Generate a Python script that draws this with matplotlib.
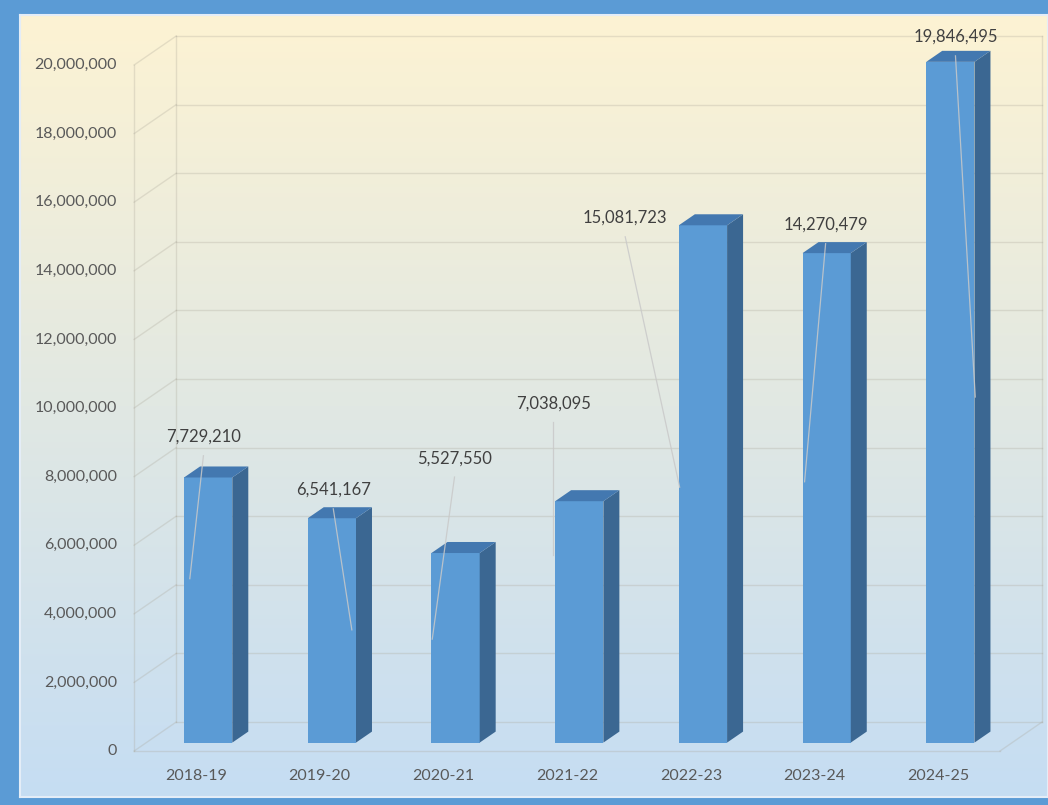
import numpy as np
import matplotlib.pyplot as plt
from matplotlib.patches import Polygon

years = ['2018-19', '2019-20', '2020-21', '2021-22', '2022-23', '2023-24', '2024-25']
values = [7729210, 6541167, 5527550, 7038095, 15081723, 14270479, 19846495]
ticks = np.arange(0, 20000001, 2000000)

# where each value label sits: x shift (category units) and height above bar top
lab_dx = [0.06, 0.11, 0.09, -0.11, -0.53, 0.09, 0.14]
lab_up = [1.43e6, 1.07e6, 3.01e6, 3.09e6, 0.46e6, 1.07e6, 0.97e6]
# leader line end: x shift and fraction of bar height
lead_dx = [-0.05, 0.26, -0.09, -0.11, -0.09, -0.08, 0.30]
lead_fr = [0.65, 0.54, 0.59, 0.81, 0.51, 0.55, 0.52]

plt.rcParams['font.family'] = ['Lato', 'DejaVu Sans']

# fake 3d: depth 1 moves a point by (DX, DY) in data units
DX = 0.34
DY = 0.845e6
d0 = 0.29      # depth of bar fronts
bd = 0.38      # bar depth
w = 0.39       # bar width

fig = plt.figure(figsize=(10.48, 8.05), dpi=100)
fig.patch.set_facecolor('#5b9bd5')

# gradient background inside the blue frame
bg = fig.add_axes([0.0191, 0.0099, 0.9809, 0.9714], zorder=0)
top_c = np.array([253, 243, 211]) / 255
bot_c = np.array([197, 221, 243]) / 255
t = np.linspace(0, 1, 300)[:, None]
grad = (1 - t) * top_c + t * bot_c
bg.imshow(grad[:, None, :], aspect='auto', extent=[0, 1, 0, 1])
bg.set_xticks([])
bg.set_yticks([])
for s in bg.spines.values():
    s.set_color('#e4edf7')
    s.set_linewidth(1.5)

ax = fig.add_axes([0, 0, 1, 1], zorder=1)
ax.patch.set_alpha(0)
ax.set_xlim(-1.5845, 6.888)
ax.set_ylim(-1.574e6, 21.895e6)
ax.axis('off')

xl, xr = -0.5, 6.5
wall = dict(color='#a9a496', alpha=0.28, lw=1.0, zorder=1)

# back wall gridlines + side wall diagonals
for v in ticks:
    ax.plot([xl + DX, xr + DX], [v + DY, v + DY], **wall)
    ax.plot([xl, xl + DX], [v, v + DY], **wall)
ax.plot([xl, xl], [0, ticks[-1]], **wall)
ax.plot([xl + DX, xl + DX], [DY, ticks[-1] + DY], **wall)
ax.plot([xr + DX, xr + DX], [DY, ticks[-1] + DY], **wall)
ax.plot([xl, xr], [0, 0], **wall)
ax.plot([xr, xr + DX], [0, DY], **wall)

# bars
xs = np.arange(len(years))
ax.bar(xs + d0 * DX, values, width=w, bottom=d0 * DY, color='#5b9bd5', zorder=3)
for i, v in enumerate(values):
    x0 = i - w / 2 + d0 * DX
    x1 = x0 + w
    y0 = d0 * DY
    y1 = v + d0 * DY
    side = [(x1, y0), (x1 + bd * DX, y0 + bd * DY), (x1 + bd * DX, y1 + bd * DY), (x1, y1)]
    top = [(x0, y1), (x1, y1), (x1 + bd * DX, y1 + bd * DY), (x0 + bd * DX, y1 + bd * DY)]
    ax.add_patch(Polygon(side, closed=True, facecolor='#3b6792', edgecolor='none', zorder=3))
    ax.add_patch(Polygon(top, closed=True, facecolor='#4378b0', edgecolor='none', zorder=3))

# value labels with leader lines
for i, v in enumerate(values):
    lx = i + lab_dx[i]
    ly = v + lab_up[i]
    ax.text(lx, ly, f'{v:,}', ha='center', va='center', fontsize=12, color='#404040', zorder=5)
    ax.plot([lx, i + lead_dx[i]], [ly - 0.55e6, v * lead_fr[i]],
            color='#c9c9c9', lw=0.9, alpha=0.85, zorder=4)

# axis labels on the front plane
for v in ticks:
    ax.text(-0.64, v, f'{v:,}', ha='right', va='center', fontsize=11.5, color='#595959')
for i, yr in enumerate(years):
    ax.text(i, -0.73e6, yr, ha='center', va='center', fontsize=11.5, color='#595959')

fig.savefig('out.png', dpi=100, facecolor=fig.get_facecolor())
